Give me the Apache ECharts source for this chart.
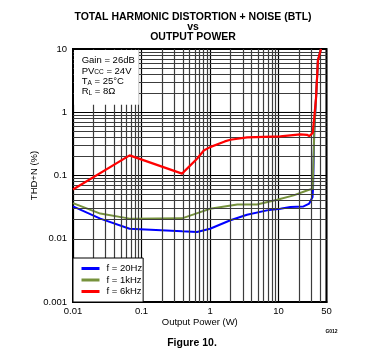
<!DOCTYPE html>
<html><head><meta charset="utf-8">
<script src="https://cdn.jsdelivr.net/npm/echarts@6/dist/echarts.min.js"></script>
<style>html,body{margin:0;padding:0;background:#fff}#c{width:371px;height:362px}</style>
</head><body><div id="c"></div>
<script>
// ---- data ----
const seriesNames = ['f = 20Hz', 'f = 1kHz', 'f = 6kHz'];

const p20Hz = [0.01, 0.025, 0.067, 0.39, 0.645, 1.0, 1.98, 3.46, 6.78, 10.6, 14.8, 23.1, 28.0, 31.3, 31.8, 33.1, 35.1, 37.5, 41.5];
const thd20Hz = [0.0325, 0.0208, 0.0144, 0.0131, 0.0128, 0.0144, 0.0196, 0.024, 0.0281, 0.0298, 0.0317, 0.0324, 0.036, 0.0456, 0.062, 0.48, 1.63, 6.6, 10];

const p1kHz = [0.01, 0.025, 0.067, 0.39, 0.72, 1.0, 2.5, 4.84, 9.5, 16.6, 25.9, 31.5, 33.1, 35.1, 37.5, 41.5];
const thd1kHz = [0.0366, 0.025, 0.0208, 0.021, 0.0264, 0.0298, 0.0349, 0.0349, 0.0414, 0.0485, 0.058, 0.062, 0.48, 1.63, 6.6, 10];

const p6kHz = [0.01, 0.067, 0.39, 0.645, 0.81, 1.0, 1.64, 1.98, 3.46, 10.6, 20.7, 25.9, 28.0, 31.5, 33.1, 35.1, 37.5, 41.5];
const thd6kHz = [0.060, 0.208, 0.107, 0.184, 0.249, 0.281, 0.346, 0.367, 0.40, 0.415, 0.446, 0.44, 0.42, 0.47, 0.50, 1.63, 6.6, 10];

const xTicks = [0.01, 0.1, 1, 10, 50];
const xTickLabels = ['0.01', '0.1', '1', '10', '50'];
const yTicks = [0.001, 0.01, 0.1, 1, 10];
const yTickLabels = ['0.001', '0.01', '0.1', '1', '10'];

const minorMultipliers = [2, 3, 4, 5, 6, 7, 8, 9];
const xDecades = [0.01, 0.1, 1, 10];
const yDecades = [0.001, 0.01, 0.1, 1];

const textBoxLines = ['Gain = 26dB', 'PV{s|CC} = 24V', 'T{s|A} = 25°C', 'R{s|L} = 8Ω'];
const chartTitle = 'TOTAL HARMONIC DISTORTION + NOISE (BTL)\nvs\nOUTPUT POWER';
const xName = 'Output Power (W)';
const yName = 'THD+N (%)';
const figureCaption = 'Figure 10.';
const figureCode = 'G012';

// ---- build ----
const FF = 'Liberation Sans, Arial, sans-serif';
function pickLabel(ticks, labels, v) {
  let best = -1, bd = Infinity;
  ticks.forEach((t, i) => { const d = Math.abs(Math.log10(t) - Math.log10(v)); if (d < bd) { bd = d; best = i; } });
  return bd < 0.01 ? labels[best] : '';
}
const zip = (a, b) => a.map((v, i) => [v, b[i]]);

const xMinor = [], yMinor = [];
xDecades.forEach(d => minorMultipliers.forEach(m => { const v = d * m; if (v < 50) xMinor.push(v); }));
yDecades.forEach(d => minorMultipliers.forEach(m => yMinor.push(d * m)));

const chart = echarts.init(document.getElementById('c'), null, { renderer: 'canvas' });
chart.setOption({
  animation: false,
  backgroundColor: '#fff',
  title: [
    { text: chartTitle, left: 193, top: 11.5, textAlign: 'center', padding: 0,
      textStyle: { fontSize: 10.5, fontWeight: 'bold', lineHeight: 10.3, color: '#000', fontFamily: FF } },
    { text: textBoxLines.join('\n'), left: 74, top: 50, padding: [5.5, 4, 8, 7.7], backgroundColor: '#fff', z: 10,
      textStyle: { fontSize: 9.5, fontWeight: 'normal', lineHeight: 10.3, color: '#000', fontFamily: FF,
        rich: { s: { fontSize: 6.5, lineHeight: 5, verticalAlign: 'bottom', color: '#000', fontFamily: FF } } } },
    { text: figureCaption, left: 192, top: 337.5, textAlign: 'center', padding: 0,
      textStyle: { fontSize: 10.5, fontWeight: 'bold', lineHeight: 12, color: '#000', fontFamily: FF } },
    { text: figureCode, left: 331.5, top: 329, textAlign: 'center', padding: 0,
      textStyle: { fontSize: 5, fontWeight: 'bold', lineHeight: 6, color: '#000', fontFamily: FF } }
  ],
  legend: {
    data: seriesNames, orient: 'vertical', left: 73, bottom: 60,
    backgroundColor: '#fff', borderColor: '#000', borderWidth: 1,
    padding: [5, 1, 5, 8.5], itemWidth: 18, itemHeight: 3, itemGap: 0.5, icon: 'rect', z: 10,
    textStyle: { fontSize: 9.5, lineHeight: 11, color: '#000', fontFamily: FF, padding: [0, 0, 0, 2] }
  },
  grid: { left: 73, right: 44.5, top: 49, bottom: 60, show: true, borderColor: '#000', borderWidth: 2, backgroundColor: 'transparent' },
  xAxis: {
    type: 'log', logBase: 10, min: 0.01, max: 50,
    axisLine: { show: true, lineStyle: { color: '#000', width: 2 } },
    axisTick: { show: false },
    axisLabel: { show: true, showMinLabel: true, showMaxLabel: true, margin: 4, fontSize: 9.5, color: '#000', fontFamily: FF,
      formatter: v => pickLabel(xTicks, xTickLabels, v) },
    splitLine: { show: true, lineStyle: { color: '#000', width: 1.2 } },
    name: xName, nameLocation: 'middle', nameGap: 15, nameMoveOverlap: false,
    nameTextStyle: { fontSize: 9.5, color: '#000', fontFamily: FF }
  },
  yAxis: {
    type: 'log', logBase: 10, min: 0.001, max: 10,
    axisLine: { show: true, lineStyle: { color: '#000', width: 2 } },
    axisTick: { show: false },
    axisLabel: { show: true, showMinLabel: true, showMaxLabel: true, margin: 6, fontSize: 9.5, color: '#000', fontFamily: FF,
      formatter: v => pickLabel(yTicks, yTickLabels, v) },
    splitLine: { show: true, lineStyle: { color: '#000', width: 1.2 } },
    name: yName, nameLocation: 'middle', nameGap: 34, nameMoveOverlap: false,
    nameTextStyle: { fontSize: 9.5, color: '#000', fontFamily: FF }
  },
  series: [
    { name: '_grid', type: 'line', data: [[1, 1]], symbol: 'none', lineStyle: { opacity: 0 }, z: 1, silent: true,
      markLine: { silent: true, symbol: ['none', 'none'], label: { show: false }, animation: false,
        lineStyle: { color: '#3c3c3c', width: 1.2, type: 'solid' },
        emphasis: { disabled: true },
        data: [...xMinor.map(v => ({ xAxis: v })), ...yMinor.map(v => ({ yAxis: v }))] } },
    { name: seriesNames[0], type: 'line', data: zip(p20Hz, thd20Hz), symbol: 'none', z: 3,
      color: '#0000ff', lineStyle: { color: '#0000ff', width: 2 } },
    { name: seriesNames[1], type: 'line', data: zip(p1kHz, thd1kHz), symbol: 'none', z: 4,
      color: '#76923c', lineStyle: { color: '#76923c', width: 2 } },
    { name: seriesNames[2], type: 'line', data: zip(p6kHz, thd6kHz), symbol: 'none', z: 5,
      color: '#ff0000', lineStyle: { color: '#ff0000', width: 2.2 } }
  ]
});
</script>
</body></html>
